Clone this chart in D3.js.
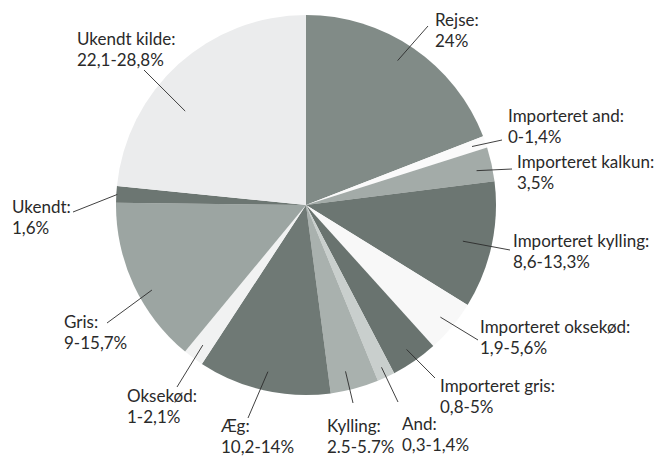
<!DOCTYPE html>
<html><head><meta charset="utf-8">
<script src="https://cdn.jsdelivr.net/npm/d3@7"></script>
<style>html,body{margin:0;padding:0;background:#fff;} text{font-family:Lato,"Open Sans",sans-serif;}</style>
</head><body>
<svg id="c" width="657" height="457"></svg>
<script>
// Categories in clockwise order from 12 o'clock
const categories = ["Rejse","Importeret and","Importeret kalkun","Importeret kylling","Importeret oksekød","Importeret gris","And","Kylling","Æg","Oksekød","Gris","Ukendt","Ukendt kilde"];
// Slice sizes (percent of full circle)
const values = [19.1, 1.0, 2.9, 10.8, 4.5, 4.0, 1.5, 4.1, 11.3, 1.75, 14.2, 1.4, 23.4];
// Label texts (second line)
const labelValues = ["24%","0-1,4%","3,5%","8,6-13,3%","1,9-5,6%","0,8-5%","0,3-1,4%","2.5-5.7%","10,2-14%","1-2,1%","9-15,7%","1,6%","22,1-28,8%"];
const colors = ["#818b87","#fafafa","#a3aba8","#6c7672","#f8f8f8","#69736f","#c9cfcd","#a9b1ae","#6f7975","#f1f2f2","#9ca5a2","#6c7672","#ebeced"];

// Layout of annotations (text anchor, line outer end, inner radius, angle offset in degrees)
const layout = [
  {tx:435, ty:26, ox:428, oy:26, r:171, da:-2},
  {tx:508, ty:122, ox:502, oy:140, r:176, da:0},
  {tx:517, ty:168, ox:512, oy:169, r:174, da:1},
  {tx:513, ty:247, ox:510, oy:250, r:161, da:0.7},
  {tx:480, ty:333, ox:478, oy:340, r:175, da:0},
  {tx:440, ty:392, ox:435, oy:378, r:176, da:0},
  {tx:402, ty:430, ox:398, oy:402, r:179, da:0},
  {tx:327, ty:432, ox:353, oy:403, r:171, da:1.5},
  {tx:221, ty:432, ox:248, oy:418, r:171, da:0},
  {tx:127, ty:402, ox:177, oy:387, r:174, da:0},
  {tx:64,  ty:328, ox:107, oy:323, r:176, da:-4},
  {tx:12,  ty:213, ox:73,  oy:212, r:189, da:0},
  {tx:77,  ty:45,  ox:144, oy:70,  r:153, da:-10}
];

const cx = 306, cy = 205, R = 190;
const svg = d3.select("#c");
const g = svg.append("g").attr("transform", `translate(${cx},${cy})`);

const data = categories.map((c,i)=>({name:c, value:values[i], label:labelValues[i], color:colors[i], lay:layout[i]}));
const pie = d3.pie().sort(null).value(d=>d.value).startAngle(0).endAngle(2*Math.PI);
const arc = d3.arc().innerRadius(0).outerRadius(R);
const arcs = pie(data);

g.selectAll("path.slice").data(arcs).enter().append("path")
  .attr("class","slice").attr("d", arc).attr("fill", d=>d.data.color);

// leader lines and labels
arcs.forEach(a=>{
  const L = a.data.lay;
  const mid = (a.startAngle + a.endAngle)/2 + L.da*Math.PI/180;
  const ix = cx + L.r*Math.sin(mid), iy = cy - L.r*Math.cos(mid);
  svg.append("line").attr("x1", ix).attr("y1", iy).attr("x2", L.ox).attr("y2", L.oy)
    .attr("stroke","#2b2b2b").attr("stroke-width",0.9);
  const t = svg.append("text").attr("x", L.tx).attr("y", L.ty).attr("fill","#2a2a2a").attr("font-size", 17);
  t.append("tspan").attr("x", L.tx).text(a.data.name + ":");
  t.append("tspan").attr("x", L.tx).attr("dy", 20.5).text(a.data.label);
});
</script>
</body></html>
